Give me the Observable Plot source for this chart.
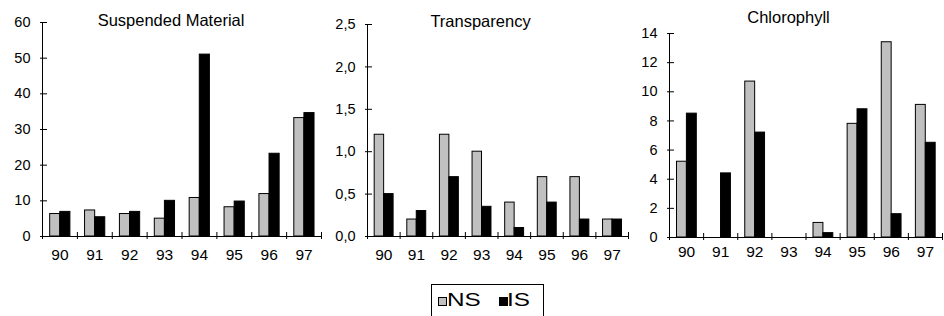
<!DOCTYPE html>
<html>
<head>
<meta charset="utf-8">
<script src="https://cdn.jsdelivr.net/npm/d3@7"></script>
<script src="https://cdn.jsdelivr.net/npm/@observablehq/plot@0.6"></script>
<style>
  body { margin: 0; background: #fff; }
  #wrap { width: 944px; font-family: "Liberation Sans", Arial, sans-serif; color: #000; }
  #panels { position: relative; width: 944px; height: 280px; }
  #panels svg { position: absolute; top: 0; }
  #legend { position: relative; margin-left: 431px; margin-top: 4px; width: 111px; height: 40px; border: 1px solid #000; }
  #legend .sw { position: absolute; top: 12px; width: 7px; height: 7px; border: 1px solid #000; }
  #legend .lb { position: absolute; top: 6px; font-size: 18px; line-height: 18px; transform: scaleX(1.35); transform-origin: left center; }
</style>
</head>
<body>
<div id="wrap">
  <div id="panels"></div>
  <div id="legend"></div>
</div>
<script>
// ---- data ----
const years = ["90", "91", "92", "93", "94", "95", "96", "97"];
const seriesNames = ["NS", "IS"];
const seriesColors = ["#c0c0c0", "#000000"];

const titles = ["Suspended Material", "Transparency", "Chlorophyll"];

const suspendedNS = [6.3, 7.3, 6.3, 5.0, 10.8, 8.2, 11.9, 33.2];
const suspendedIS = [6.9, 5.4, 6.9, 10.0, 51.0, 9.8, 23.2, 34.6];

const transparencyNS = [1.2, 0.2, 1.2, 1.0, 0.4, 0.7, 0.7, 0.2];
const transparencyIS = [0.5, 0.3, 0.7, 0.35, 0.1, 0.4, 0.2, 0.2];

const chlorophyllNS = [5.2, 0, 10.7, 0, 1.0, 7.8, 13.4, 9.1];
const chlorophyllIS = [8.5, 4.4, 7.2, 0, 0.3, 8.8, 1.6, 6.5];

const suspendedTicks = [0, 10, 20, 30, 40, 50, 60];
const transparencyTicks = [0, 0.5, 1.0, 1.5, 2.0, 2.5];
const chlorophyllTicks = [0, 2, 4, 6, 8, 10, 12, 14];

// ---- drawing ----
const H = 280;
const barOffsets = {NS: [0.22, 0.51], IS: [0.51, 0.80]};

function panel(opts) {
  const rows = [];
  years.forEach((y, i) => {
    rows.push({year: y, i, series: "NS", value: opts.ns[i]});
    rows.push({year: y, i, series: "IS", value: opts.is[i]});
  });
  const yMax = opts.ticks[opts.ticks.length - 1];
  const svg = Plot.plot({
    width: opts.width,
    height: H,
    marginLeft: opts.ml,
    marginRight: opts.mr,
    marginTop: opts.mt,
    marginBottom: opts.mb,
    style: {fontFamily: '"Liberation Sans", Arial, sans-serif', fontSize: "15px", color: "#000", background: "transparent", overflow: "visible"},
    x: {domain: [0, years.length], axis: null},
    y: {domain: [0, yMax], axis: null},
    color: {domain: seriesNames, range: seriesColors},
    marks: [
      Plot.rectY(rows.filter(d => d.value > 0), {
        x1: d => d.i + barOffsets[d.series][0],
        x2: d => d.i + barOffsets[d.series][1],
        y1: 0,
        y2: "value",
        fill: "series",
        stroke: "#000",
        strokeWidth: 1
      }),
      Plot.ruleY([0], {stroke: "#000"}),
      Plot.ruleX([0], {stroke: "#000"}),
      Plot.axisY({ticks: opts.ticks, tickSize: 7, dx: 5, tickPadding: 10, tickFormat: opts.fmt, label: null, fontSize: 14.5}),
      Plot.axisX({ticks: d3.range(0, years.length + 1), tickSize: 7, dy: -4, tickFormat: () => "", label: null}),
      Plot.axisX({ticks: years.map((y, i) => i + 0.5), tickSize: 0, tickPadding: opts.lp, tickFormat: d => years[Math.round(d - 0.5)], label: null, fontSize: 15.5}),
      Plot.text([opts.title], {frameAnchor: "top", dx: opts.tdx, dy: opts.ty - opts.mt, lineAnchor: "middle", fontSize: 16.5})
    ]
  });
  svg.style.left = opts.left + "px";
  document.getElementById("panels").appendChild(svg);
}

panel({title: titles[0], ns: suspendedNS, is: suspendedIS, ticks: suspendedTicks, fmt: d => String(d),
  left: 0, width: 325, ml: 42, mr: 4, mt: 22, mb: H - 236, lp: 12, tdx: -11, ty: 20.5});
panel({title: titles[1], ns: transparencyNS, is: transparencyIS, ticks: transparencyTicks, fmt: d => d.toFixed(1).replace(".", ","),
  left: 325, width: 305, ml: 42, mr: 2, mt: 24, mb: H - 236, lp: 12, tdx: -17.5, ty: 21.5});
panel({title: titles[2], ns: chlorophyllNS, is: chlorophyllIS, ticks: chlorophyllTicks, fmt: d => String(d),
  left: 630, width: 314, ml: 39, mr: 2, mt: 33, mb: H - 237, lp: 8, tdx: -17.5, ty: 17.5});

// ---- legend ----
const legend = document.getElementById("legend");
const legendPos = [[6, 15], [67, 75]];
seriesNames.forEach((name, k) => {
  const sw = document.createElement("div");
  sw.className = "sw";
  sw.style.left = legendPos[k][0] + "px";
  sw.style.background = seriesColors[k];
  legend.appendChild(sw);
  const lb = document.createElement("div");
  lb.className = "lb";
  lb.style.left = legendPos[k][1] + "px";
  lb.textContent = name;
  legend.appendChild(lb);
});
</script>
</body>
</html>
